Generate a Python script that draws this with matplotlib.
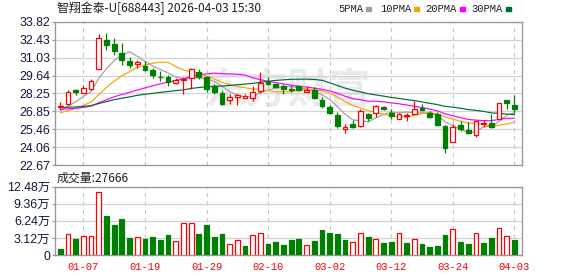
"""
智翔金泰-U 日K线 + 成交量 (2026-04-03)
"""

import numpy as np
import pandas as pd
import matplotlib
matplotlib.use("Agg")
import matplotlib.pyplot as plt
from matplotlib.patches import Rectangle

plt.rcParams["lines.scale_dashes"] = False

# 交易日
dates = [
    "12-31", "01-05", "01-06", "01-07", "01-08", "01-09", "01-12", "01-13", "01-14", "01-15",
    "01-16", "01-19", "01-20", "01-21", "01-22", "01-23", "01-26", "01-27", "01-28", "01-29",
    "01-30", "02-02", "02-03", "02-04", "02-05", "02-06", "02-09", "02-10", "02-11", "02-12",
    "02-13", "02-24", "02-25", "02-26", "02-27", "03-02", "03-03", "03-04", "03-05", "03-06",
    "03-09", "03-10", "03-11", "03-12", "03-13", "03-16", "03-17", "03-18", "03-19", "03-20",
    "03-23", "03-24", "03-25", "03-26", "03-27", "03-30", "03-31", "04-01", "04-02", "04-03",
]

opens = [
    27.18, 27.45, 28.53, 28.32, 28.58, 30.18, 32.40, 32.09, 31.37, 30.80,
    30.54, 30.36, 30.10, 29.56, 29.56, 29.07, 29.27, 29.46, 29.90, 29.51,
    28.81, 28.30, 27.73, 27.96, 27.86, 27.91, 28.43, 29.15, 28.99, 28.86,
    28.61, 28.81, 28.37, 28.48, 27.73, 27.19, 26.57, 25.50, 25.90, 25.72,
    26.62, 26.75, 27.21, 26.75, 26.28, 26.52, 26.67, 27.13, 26.75, 26.62,
    25.72, 24.48, 25.79, 25.41, 25.02, 25.90, 25.97, 26.26, 27.75, 27.32,
]
highs = [
    27.57, 28.48, 28.63, 28.89, 29.38, 32.89, 32.94, 32.55, 32.17, 31.06,
    30.88, 30.80, 30.23, 30.03, 29.72, 29.46, 29.56, 30.20, 30.15, 29.59,
    28.99, 28.55, 28.22, 28.22, 28.22, 28.81, 29.92, 29.51, 29.07, 28.99,
    28.81, 28.94, 28.81, 28.74, 27.96, 27.34, 26.83, 25.84, 26.15, 27.08,
    26.75, 27.39, 27.26, 27.01, 26.75, 26.75, 27.65, 27.45, 26.88, 26.80,
    25.77, 25.84, 26.10, 26.05, 26.15, 26.15, 26.67, 27.52, 27.75, 28.09,
]
lows = [
    27.08, 27.34, 28.14, 28.27, 28.55, 30.15, 31.65, 31.26, 30.49, 30.23,
    30.23, 29.97, 29.41, 29.25, 28.81, 28.99, 28.17, 28.60, 29.38, 28.37,
    28.17, 27.34, 27.45, 27.32, 27.86, 27.70, 28.30, 28.89, 28.74, 28.22,
    28.37, 28.43, 28.37, 27.78, 27.13, 26.67, 25.59, 25.20, 25.60, 25.64,
    26.10, 26.41, 27.00, 26.23, 26.28, 26.10, 26.62, 26.88, 26.36, 25.72,
    23.65, 24.48, 25.33, 25.07, 24.86, 25.64, 25.54, 26.26, 27.08, 26.75,
]
closes = [
    27.26, 28.37, 28.33, 28.68, 29.23, 32.53, 32.04, 31.52, 30.88, 30.49,
    30.72, 30.10, 29.72, 29.51, 29.12, 29.28, 29.35, 30.13, 29.51, 28.63,
    28.37, 27.45, 27.99, 28.12, 28.04, 28.37, 29.07, 28.99, 28.76, 28.61,
    28.55, 28.52, 28.55, 27.86, 27.26, 26.75, 25.72, 25.62, 25.66, 26.88,
    26.31, 27.26, 27.01, 26.49, 26.67, 26.57, 27.01, 26.98, 26.44, 25.77,
    23.99, 25.64, 25.46, 25.20, 26.10, 25.97, 25.66, 27.50, 27.52, 27.06,
]
# 成交量(手)
volumes = [
    11000, 38000, 29000, 35000, 35000, 116000, 71000, 55000, 66000, 31000,
    33000, 29000, 33000, 27000, 37000, 25000, 58000, 58000, 38000, 55000,
    33000, 38000, 20000, 27000, 16000, 36000, 40000, 20000, 24000, 18000,
    27000, 29000, 18000, 26000, 46000, 40000, 38000, 27000, 23000, 41000,
    33000, 29000, 22000, 24000, 40000, 22000, 30000, 20000, 15000, 16000,
    37000, 47000, 24000, 20000, 41000, 22000, 31000, 49000, 34000, 27666,
]
# 窗口之前的收盘价(用于均线)
history_close = [
    27.9, 27.6, 27.3, 27.5, 27.7, 27.4, 27.2, 27.5, 27.3, 27.2,
    27.5, 27.6, 27.3, 27.1, 27.4, 27.2, 27.0, 27.3, 27.2, 27.1,
    26.8, 26.5, 26.4, 26.6, 26.7, 26.6, 26.6, 26.66, 27.4,
]

price_ticks = [22.67, 24.06, 25.46, 26.85, 28.25, 29.64, 31.03, 32.43, 33.82]
vol_ticks = [0, 3.12, 6.24, 9.36, 12.48]
date_ticks = ["01-07", "01-19", "01-29", "02-10", "03-02", "03-12", "03-24", "04-03"]

ma_periods = [5, 10, 20, 30]
ma_colors = ["#a0a0a0", "#f5a300", "#ff00ff", "#006a35"]

RED, GREEN = "#ff0000", "#008000"
GRID = "#d2d2d2"
FRAME = "#999999"
LABEL = "#101a3c"

W, H = 578, 276
fig = plt.figure(figsize=(W / 100, H / 100), dpi=100)


def px_axes(l, t, r, b):
    return fig.add_axes([l / W, 1 - b / H, (r - l) / W, (b - t) / H])


ax = px_axes(55, 21.7, 522.3, 165.3)
axv = px_axes(55, 186.7, 522.3, 255)

n = len(dates)
x = np.arange(n)
o, h, l, c = map(np.array, (opens, highs, lows, closes))
up = c >= o
prev_close = np.r_[history_close[-1], c[:-1]]
vol_up = c >= prev_close
tick_idx = [dates.index(d) for d in date_ticks]

for a in (ax, axv):
    a.set_xlim(-0.69, n - 1 + 1.03)
    for s in a.spines.values():
        s.set_color(FRAME)
        s.set_linewidth(1.0)
    for i in tick_idx:
        a.axvline(i, color="#c4c4c4", lw=0.8, ls=(0, (3, 3)), zorder=1)
    a.tick_params(axis="y", length=2, width=0.8, color=FRAME, pad=1.5,
                  labelsize=8.9, labelcolor=LABEL)

# 价格面板
ax.set_ylim(price_ticks[0], price_ticks[-1])
ax.set_yticks(price_ticks)
ax.set_yticklabels([f"{t:.2f}" for t in price_ticks], family="Liberation Sans")
for t in price_ticks[1:-1]:
    ax.axhline(t, color=GRID, lw=0.9, zorder=1)
ax.set_xticks([])

ax.text(0.4986, 0.52, "东方财富", transform=ax.transAxes, ha="center", va="center",
        fontsize=30, fontweight="bold", color="#eaeaee", family="Noto Sans CJK SC", zorder=0)

# 均线
all_close = pd.Series(history_close + closes)
for p, col in zip(ma_periods, ma_colors):
    ma = all_close.rolling(p).mean().to_numpy()[-n:]
    ax.plot(x, ma, color=col, lw=0.85, zorder=3)

# K线
ax.vlines(x[up], l[up], h[up], color=RED, lw=0.9, zorder=4)
ax.vlines(x[~up], l[~up], h[~up], color=GREEN, lw=0.9, zorder=4)
body = np.maximum(np.abs(c - o), 0.03)
bottom = np.minimum(o, c)
ax.bar(x[up], body[up], bottom=bottom[up], width=0.62, facecolor="white",
       edgecolor=RED, lw=0.9, zorder=5)
ax.bar(x[~up], body[~up], bottom=bottom[~up], width=0.62, facecolor=GREEN,
       edgecolor=GREEN, lw=0.9, zorder=5)

# 成交量面板
v = np.array(volumes) / 10000
axv.set_ylim(0, vol_ticks[-1])
axv.set_yticks(vol_ticks)
axv.set_yticklabels(["0"] + [f"{t:.2f}万" for t in vol_ticks[1:]],
                    family=["Liberation Sans", "Noto Sans CJK SC"])
for t in vol_ticks[1:-1]:
    axv.axhline(t, color=GRID, lw=0.9, zorder=1)
axv.bar(x[vol_up], v[vol_up], width=0.62, facecolor="white", edgecolor=RED, lw=0.9, zorder=3)
axv.bar(x[~vol_up], v[~vol_up], width=0.62, facecolor=GREEN, edgecolor=GREEN, lw=0.9, zorder=3)
axv.set_xticks(tick_idx)
axv.set_xticklabels(date_ticks, family="Liberation Mono", fontsize=7.6, color=RED)
axv.tick_params(axis="x", length=0, pad=5)

# 标题、图例
fig.text(57 / W, 1 - 8.3 / H, "智翔金泰-U[688443] 2026-04-03 15:30", ha="left", va="center",
         fontsize=8.6, family=["Noto Sans CJK SC"], color="#202020")
leg_x = [338, 380, 425, 471.5]
sq_x = [365.5, 413.5, 459.5, 506]
for p, col, tx, sx in zip(ma_periods, ma_colors, leg_x, sq_x):
    fig.text(tx / W, 1 - 9 / H, f"{p}PMA", ha="left", va="center", fontsize=7.6,
             family="Liberation Mono", color="#202020")
    fig.patches.append(Rectangle((sx / W, 1 - 10.5 / H), 5 / W, 3 / H,
                                 transform=fig.transFigure, color=col))

fig.text(57 / W, 1 - 178 / H, f"成交量:{volumes[-1]}", ha="left", va="center",
         fontsize=8.6, family=["Noto Sans CJK SC"], color="#202020")

fig.savefig("out.png", dpi=100, facecolor="white")
